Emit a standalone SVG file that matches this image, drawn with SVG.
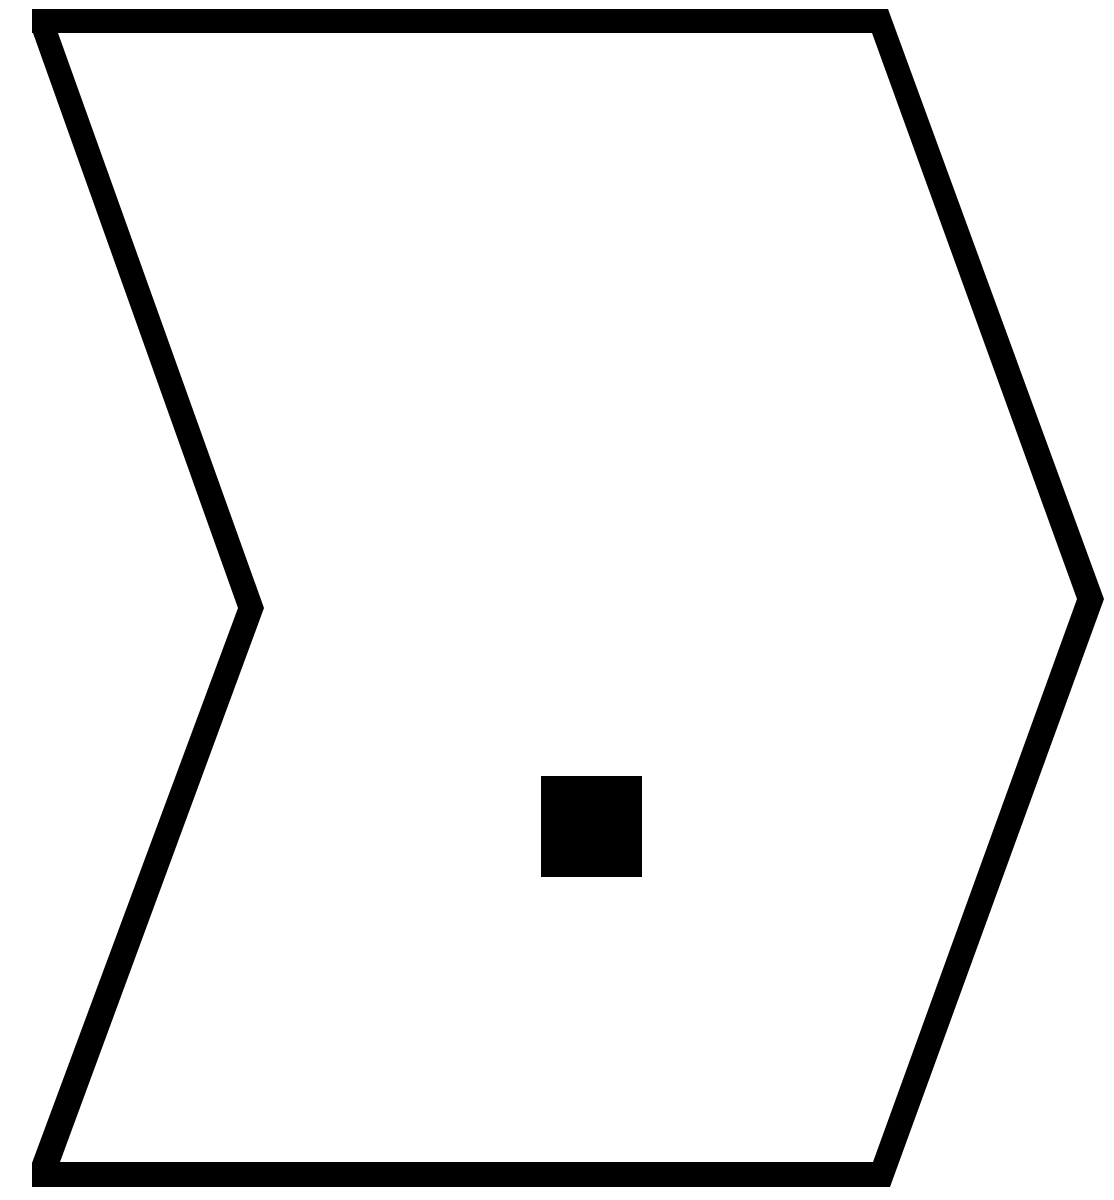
<svg xmlns="http://www.w3.org/2000/svg" width="1114" height="1200" viewBox="0 0 1114 1200">
  <style>
    .ink { fill: #000000; }
  </style>
  <rect x="0" y="0" width="1114" height="1200" fill="#ffffff"/>
  <g id="chevron-outline">
    <path class="ink" fill-rule="evenodd" d="M32,9 L888,9 L1104,599 L890,1187 L32,1187 L32,1163 L238,608 L33,33 L32,33 Z M58,33 L872,33 L1077,599 L873,1162 L60,1162 L264,608 Z"/>
  </g>
  <g id="square-marker">
    <rect class="ink" x="541" y="776" width="101" height="101"/>
  </g>
  <g id="connectors"></g>
</svg>
